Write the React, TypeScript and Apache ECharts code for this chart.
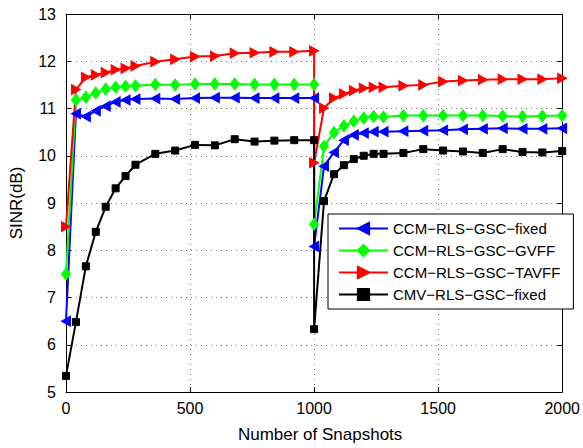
import React, { useEffect, useRef } from "react";
import * as echarts from "echarts";

const snapshots = [0, 40, 80, 120, 160, 200, 240, 280, 360, 440, 520, 600, 680, 760, 840, 920, 1000,
  1000, 1040, 1080, 1120, 1160, 1200, 1240, 1280, 1360, 1440, 1520, 1600, 1680, 1760, 1840, 1920, 2000];

const ccmFixed = [6.50, 10.89, 10.83, 10.95, 11.05, 11.14, 11.18, 11.20, 11.21, 11.20, 11.22, 11.23, 11.23, 11.22, 11.22, 11.22, 11.22,
  8.08, 9.78, 10.07, 10.33, 10.44, 10.48, 10.51, 10.51, 10.52, 10.53, 10.54, 10.56, 10.57, 10.58, 10.57, 10.57, 10.58];
const ccmGvff = [7.50, 11.18, 11.24, 11.33, 11.41, 11.45, 11.47, 11.48, 11.51, 11.50, 11.52, 11.52, 11.52, 11.51, 11.51, 11.51, 11.51,
  8.55, 10.20, 10.49, 10.63, 10.73, 10.80, 10.83, 10.82, 10.85, 10.85, 10.85, 10.85, 10.85, 10.84, 10.83, 10.84, 10.85];
const ccmTavff = [8.50, 11.40, 11.66, 11.71, 11.76, 11.82, 11.85, 11.90, 11.99, 12.04, 12.10, 12.11, 12.17, 12.18, 12.20, 12.20, 12.22,
  9.85, 11.01, 11.22, 11.31, 11.38, 11.43, 11.45, 11.45, 11.48, 11.50, 11.57, 11.59, 11.61, 11.62, 11.62, 11.62, 11.64];
const cmvFixed = [5.34, 6.48, 7.66, 8.39, 8.92, 9.31, 9.57, 9.81, 10.04, 10.11, 10.23, 10.22, 10.35, 10.30, 10.32, 10.33, 10.33,
  6.33, 9.04, 9.61, 9.80, 9.93, 10.00, 10.04, 10.04, 10.06, 10.14, 10.11, 10.09, 10.06, 10.14, 10.08, 10.07, 10.10];

const seriesNames = ["CCM\u2212RLS\u2212GSC\u2212fixed", "CCM\u2212RLS\u2212GSC\u2212GVFF", "CCM\u2212RLS\u2212GSC\u2212TAVFF", "CMV\u2212RLS\u2212GSC\u2212fixed"];
const xTicks = { min: 0, max: 2000, interval: 500 };
const yTicks = { min: 5, max: 13, interval: 1 };

const FONT = "'Liberation Sans', Arial, Helvetica, sans-serif";

export default function App() {
  const ref = useRef<HTMLDivElement>(null);
  useEffect(() => {
    if (!ref.current) return;
    const chart = echarts.init(ref.current, null, { renderer: "svg" });
    const pair = (vals: number[]) => vals.map((v, i) => [snapshots[i], v]);
    const gridLine = { show: true, lineStyle: { color: "#777", type: [1, 4] as any, width: 1 } };
    const axisLine = { show: true, onZero: false, lineStyle: { color: "#000", width: 1 } };
    const tick = { show: true, inside: true, length: 5, lineStyle: { color: "#000" } };
    const mkSeries = (name: string, vals: number[], color: string, symbol: string, size: any, rotate: number) => ({
      name,
      type: "line",
      data: pair(vals),
      symbol,
      symbolSize: size,
      symbolRotate: rotate,
      showAllSymbol: true,
      lineStyle: { color, width: 2 },
      itemStyle: { color, borderColor: color, borderWidth: 1 },
      emphasis: { disabled: true },
    });
    chart.setOption({
      animation: false,
      textStyle: { fontFamily: FONT },
      grid: { left: 66, right: 20, top: 14, bottom: 55, containLabel: false },
      legend: {
        orient: "vertical",
        left: 328,
        top: 214,
        padding: [7, 13, 7, 10],
        itemGap: 7,
        itemWidth: 49,
        itemHeight: 14,
        backgroundColor: "#fff",
        borderColor: "#000",
        borderWidth: 1,
        borderRadius: 0,
        textStyle: { fontSize: 15, color: "#000", fontFamily: FONT },
        data: seriesNames,
      },
      xAxis: [
        {
          type: "value", ...xTicks, position: "bottom",
          name: "Number of Snapshots", nameLocation: "middle", nameGap: 34,
          nameTextStyle: { fontSize: 17, color: "#000", fontFamily: FONT, padding: [0, 0, 0, 12] },
          axisLine, axisTick: tick,
          axisLabel: { fontSize: 16, color: "#000", margin: 8, fontFamily: FONT, formatter: (v: number) => String(v) },
          splitLine: gridLine,
        },
        {
          type: "value", ...xTicks, position: "top",
          axisLine, axisTick: tick,
          axisLabel: { show: false }, splitLine: { show: false },
        },
      ],
      yAxis: [
        {
          type: "value", ...yTicks, position: "left",
          name: "SINR(dB)", nameLocation: "middle", nameGap: 41,
          nameTextStyle: { fontSize: 17, color: "#000", fontFamily: FONT },
          axisLine, axisTick: tick,
          axisLabel: { fontSize: 16, color: "#000", margin: 10, fontFamily: FONT },
          splitLine: gridLine,
        },
        {
          type: "value", ...yTicks, position: "right",
          axisLine, axisTick: tick,
          axisLabel: { show: false }, splitLine: { show: false },
        },
      ],
      series: [
        mkSeries(seriesNames[0], ccmFixed, "#0000ff", "triangle", [10, 9], 90),
        mkSeries(seriesNames[1], ccmGvff, "#00ff00", "diamond", [9, 12], 0),
        mkSeries(seriesNames[2], ccmTavff, "#ff0000", "triangle", [10, 9], -90),
        mkSeries(seriesNames[3], cmvFixed, "#000000", "rect", 7, 0),
      ],
    });
    return () => chart.dispose();
  }, []);
  return <div ref={ref} style={{ position: "absolute", left: 0, top: 0, width: 583, height: 448 }} />;
}
